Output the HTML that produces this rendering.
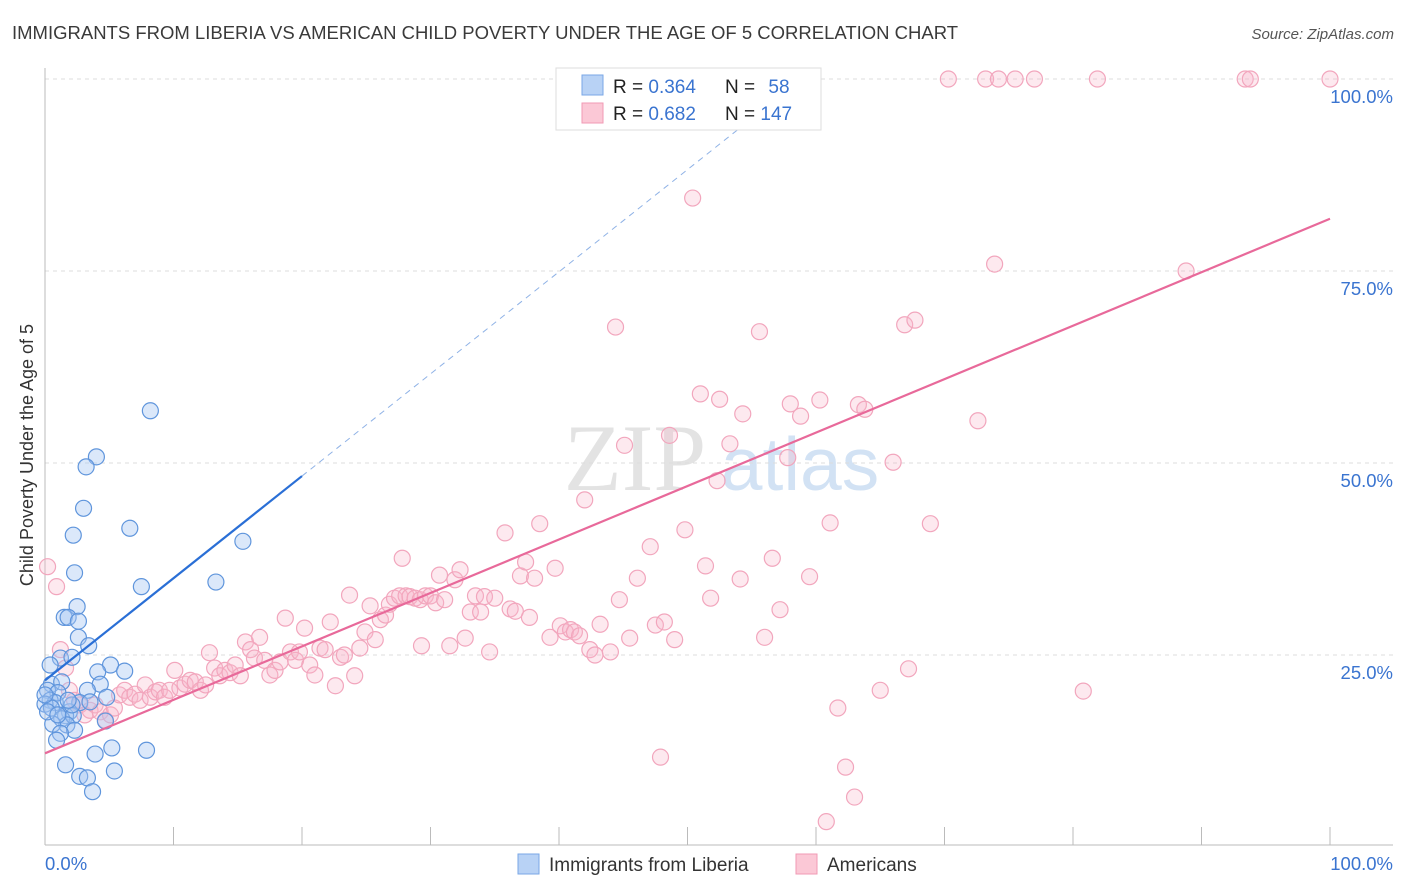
<!DOCTYPE html>
<html><head><meta charset="utf-8">
<style>
body{margin:0;background:#fff;font-family:"Liberation Sans",sans-serif;}
#wrap{position:relative;width:1406px;height:892px;overflow:hidden;}
svg text{font-family:"Liberation Sans",sans-serif;}
</style></head>
<body>
<div id="wrap">
<svg id="chart" width="1406" height="892">
<text x="12" y="39" font-size="18.5" fill="#3a3a3a">IMMIGRANTS FROM LIBERIA VS AMERICAN CHILD POVERTY UNDER THE AGE OF 5 CORRELATION CHART</text>
<text x="1394" y="39" font-size="15" fill="#555" font-style="italic" text-anchor="end">Source: ZipAtlas.com</text>
<text x="33" y="455" font-size="18" fill="#333" text-anchor="middle" transform="rotate(-90 33 455)">Child Poverty Under the Age of 5</text>
<g>
<text x="635" y="490" font-size="95" fill="#ddd" text-anchor="middle" style="font-family:'Liberation Serif',serif" opacity="0.8">ZIP</text>
<text x="800" y="490" font-size="75" fill="#c8dcf2" text-anchor="middle" opacity="0.8">atlas</text>
</g>
<g id="grid"></g><g id="axes"></g><g id="pts"></g><g id="lines"></g>
<g>
<rect x="556" y="68" width="265" height="62" fill="#fff" stroke="#ddd"/>
<rect x="582" y="75" width="21" height="20" fill="#b8d2f5" stroke="#7aa7e6"/>
<rect x="582" y="103" width="21" height="20" fill="#fbc8d6" stroke="#f09ab4"/>
<text x="613" y="93" font-size="19" fill="#222">R = <tspan fill="#3a74d0">0.364</tspan></text>
<text x="725" y="93" font-size="19" fill="#222">N = <tspan fill="#3a74d0" dx="8">58</tspan></text>
<text x="613" y="120" font-size="19" fill="#222">R = <tspan fill="#3a74d0">0.682</tspan></text>
<text x="725" y="120" font-size="19" fill="#222">N = <tspan fill="#3a74d0">147</tspan></text>
</g>
<g>
<rect x="518" y="854" width="21" height="20" fill="#b8d2f5" stroke="#7aa7e6"/>
<text x="549" y="871" font-size="19" fill="#333">Immigrants from Liberia</text>
<rect x="796" y="854" width="21" height="20" fill="#fbc8d6" stroke="#f09ab4"/>
<text x="827" y="871" font-size="19" fill="#333">Americans</text>
</g>
</svg>
</div>
<script>
const yTicks=[25,50,75,100];
const yTickLabels=["25.0%","50.0%","75.0%","100.0%"];
const xTicks=[0,10,20,30,40,50,60,70,80,90,100];
const blueX=[8.2,4.0,3.2,3.0,6.6,2.2,15.4,7.5,13.3,2.3,2.5,1.5,1.8,2.6,2.6,3.4,1.2,2.1,0.4,5.1,6.2,4.1,0.5,1.3,4.3,3.3,0.2,1.0,4.8,0.4,0.8,2.7,0.0,0.5,1.9,1.6,1.3,2.2,4.7,1.7,0.6,2.3,1.2,0.9,3.9,5.2,7.9,1.6,2.7,3.3,5.4,3.7,0.0,0.2,2.1,1.0,3.5,1.8];
const blueY=[56.8,50.8,49.5,44.1,41.5,40.6,39.8,33.9,34.5,35.7,31.3,29.9,29.9,29.4,27.3,26.2,24.6,24.7,23.7,23.7,22.9,22.8,21.2,21.5,21.2,20.4,20.4,20.1,19.5,19.1,18.8,18.8,18.6,18.1,17.6,17.1,16.7,17.1,16.4,15.9,16.0,15.2,14.8,13.9,12.1,12.9,12.6,10.7,9.2,9.0,9.9,7.2,19.8,17.6,18.5,17.2,18.9,19.1];
const pinkX=[0.2,0.9,1.2,1.6,1.9,2.3,2.7,3.1,3.5,3.9,4.3,4.7,5.1,5.4,5.8,6.2,6.6,7.0,7.4,7.8,8.2,8.6,8.9,9.3,9.7,10.1,10.5,10.9,11.3,11.7,12.1,12.5,12.8,13.2,13.6,14.0,14.4,14.8,15.2,15.6,16.0,16.3,16.7,17.1,17.5,17.9,18.3,18.7,19.1,19.5,19.8,20.2,20.6,21.0,21.4,21.8,22.2,22.6,23.0,23.3,23.7,24.1,24.5,24.9,25.3,25.7,26.1,26.5,26.8,27.2,27.6,27.8,28.1,28.4,28.8,29.2,29.3,29.6,30.0,30.4,30.7,31.1,31.5,31.9,32.3,32.7,33.1,33.5,33.9,34.2,34.6,35.0,35.8,36.2,36.6,37.0,37.4,37.7,38.1,38.5,39.3,39.7,40.1,40.5,40.9,41.2,41.6,42.0,42.4,42.8,43.2,44.0,44.4,44.7,45.1,45.5,46.1,47.1,47.5,47.9,48.2,48.6,49.0,49.8,50.4,51.0,51.4,51.8,52.3,52.5,53.3,54.1,54.3,55.6,56.0,56.6,57.2,57.8,58.0,58.8,59.5,60.3,60.8,61.1,61.7,62.3,63.0,63.3,63.8,65.0,66.0,66.9,67.2,67.7,68.9,70.3,72.6,73.2,73.9,74.2,75.5,77.0,80.8,81.9,88.8,93.4,93.8,100,59.1,46.7,57.2];
const pinkY=[36.5,33.9,25.7,23.3,20.4,19.1,18.5,17.2,17.8,18.5,17.6,16.5,17.2,18.1,19.8,20.4,19.5,19.9,19.1,21.1,19.5,20.2,20.4,19.5,20.4,23.0,20.7,21.2,21.7,21.5,20.4,21.1,25.3,23.3,22.3,23.0,22.7,23.7,22.3,26.7,25.7,24.6,27.3,24.3,22.4,23.0,24.1,29.8,25.4,24.3,25.4,28.5,23.7,22.4,25.9,25.7,29.3,21.0,24.7,25.0,32.8,22.3,25.9,28.0,31.4,27.0,29.6,30.2,31.6,32.4,32.7,37.6,32.7,32.6,32.4,32.2,26.2,32.7,32.7,31.8,35.4,32.2,26.2,34.8,36.1,27.2,30.6,32.7,30.6,32.6,25.4,32.4,40.9,31.0,30.7,35.3,37.1,29.9,35.0,42.1,27.3,36.3,28.8,28.0,28.3,28.0,27.5,45.2,25.7,25.0,29.0,25.4,67.7,32.2,52.3,27.2,35.0,39.1,28.9,11.7,29.3,53.6,27.0,41.3,84.5,59.0,36.6,32.4,47.7,58.3,52.5,34.9,56.4,67.1,27.3,37.6,30.9,50.7,57.7,56.1,35.2,58.2,3.3,42.2,18.1,10.4,6.5,57.6,57.0,20.4,50.1,68.0,23.2,68.6,42.1,100,55.5,100,75.9,100,100,100,20.3,100,75.0,100,100,100,100,94.7,98.8];
const blueTrend=[21.7,1.33];
const pinkTrend=[12.2,0.696];

const NS="http://www.w3.org/2000/svg";
const sx=v=>45+v*12.85;
const sy=v=>847-v*7.68;
function mk(tag,attrs,parent){const e=document.createElementNS(NS,tag);for(const k in attrs)e.setAttribute(k,attrs[k]);parent.appendChild(e);return e;}
const grid=document.getElementById('grid'),axes=document.getElementById('axes'),pts=document.getElementById('pts'),lines=document.getElementById('lines');
yTicks.forEach((t,i)=>{
  const g=mk('line',{x1:45,x2:1393,y1:sy(t),y2:sy(t),stroke:'#dcdcdc','stroke-dasharray':'4 4'},grid);
  
  
  const l=mk('text',{x:1393,y:sy(t)+24,'font-size':18.5,fill:'#3a74d0','text-anchor':'end'},axes);
  l.textContent=yTickLabels[i];
  
  
});
const ax=mk('line',{x1:45,x2:45,y1:68,y2:845,stroke:'#bbb'},axes);


const bx=mk('line',{x1:45,x2:1393,y1:845,y2:845,stroke:'#bbb'},axes);


xTicks.forEach(t=>{
  const tk=mk('line',{x1:sx(t),x2:sx(t),y1:827,y2:845,stroke:'#bbb'},axes);
  
  
});
const x0=mk('text',{x:45,y:870,'font-size':18.5,fill:'#3a74d0'},axes);x0.textContent='0.0%';


const x1=mk('text',{x:1393,y:870,'font-size':18.5,fill:'#3a74d0','text-anchor':'end'},axes);x1.textContent='100.0%';


pinkX.forEach((x,i)=>{
  const c=mk('circle',{cx:sx(x),cy:sy(pinkY[i]),r:8,fill:'rgba(248,182,202,0.3)',stroke:'#f2a6bd','stroke-width':1.2},pts);
  
  
});
blueX.forEach((x,i)=>{
  const c=mk('circle',{cx:sx(x),cy:sy(blueY[i]),r:8,fill:'rgba(165,198,242,0.4)',stroke:'#5f95dc','stroke-width':1.2},pts);
  
  
});
const pl=mk('line',{x1:sx(0),y1:sy(pinkTrend[0]),x2:sx(100),y2:sy(pinkTrend[0]+pinkTrend[1]*100),stroke:'#e8699a','stroke-width':2.2},lines);


const bl=mk('line',{x1:sx(0),y1:sy(blueTrend[0]),x2:sx(20),y2:sy(blueTrend[0]+blueTrend[1]*20),stroke:'#2a6fd6','stroke-width':2.2},lines);


const xe=(100-blueTrend[0])/blueTrend[1];
const bd=mk('line',{x1:sx(20),y1:sy(blueTrend[0]+blueTrend[1]*20),x2:sx(xe),y2:sy(100),stroke:'#8fb2e6','stroke-width':1,'stroke-dasharray':'6 5'},lines);


</script>
</body></html>
